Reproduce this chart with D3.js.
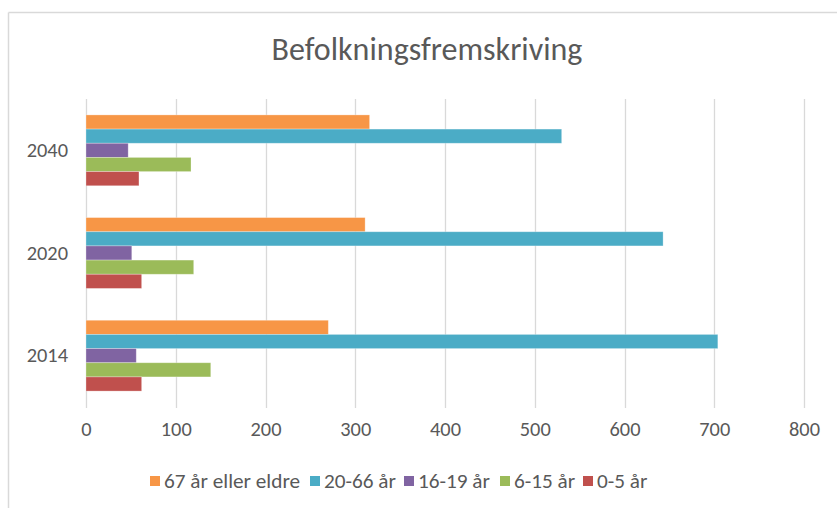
<!DOCTYPE html>
<html>
<head>
<meta charset="utf-8">
<script src="https://cdn.jsdelivr.net/npm/d3@7"></script>
<style>
  html, body { margin: 0; padding: 0; background: #fff; }
  svg { display: block; }
  text { font-family: Carlito, "Liberation Sans Narrow", "Open Sans", "Noto Sans", sans-serif; fill: #595959; }
</style>
</head>
<body>
<svg id="chart" width="837" height="508"></svg>
<script>
const title = "Befolkningsfremskriving";
const categories = ["2040", "2020", "2014"];
const seriesNames = ["67 år eller eldre", "20-66 år", "16-19 år", "6-15 år", "0-5 år"];
const seriesColors = ["#F79646", "#4BACC6", "#8064A2", "#9BBB59", "#C0504D"];
const values67plus = [316, 311, 270];
const values20to66 = [530, 643, 704];
const values16to19 = [47, 51, 56];
const values6to15 = [117, 120, 139];
const values0to5 = [59, 62, 62];
const xTicks = [0, 100, 200, 300, 400, 500, 600, 700, 800];

const seriesValues = [values67plus, values20to66, values16to19, values6to15, values0to5];

const svg = d3.select("#chart");

// chart frame (left and top border visible)
svg.append("line").attr("x1", 8.5).attr("x2", 8.5).attr("y1", 12.5).attr("y2", 508)
  .attr("stroke", "#d9d9d9").attr("stroke-width", 1.5);
svg.append("line").attr("x1", 8.5).attr("x2", 837).attr("y1", 12.5).attr("y2", 12.5)
  .attr("stroke", "#d9d9d9").attr("stroke-width", 1.5);

function fit(sel, target) {
  const node = sel.node();
  const size = parseFloat(sel.attr("font-size"));
  const w = node.getComputedTextLength();
  if (w > 0) sel.attr("font-size", (size * target / w).toFixed(2));
}

const x = d3.scaleLinear().domain([0, 800]).range([86, 804]);
const y = d3.scaleBand().domain(categories).range([99, 407]).paddingInner(0.31).paddingOuter(0.155);
const ySub = d3.scaleBand().domain(seriesNames).range([0, y.bandwidth()]).padding(0);

// gridlines
svg.append("g").selectAll("line").data(xTicks).join("line")
  .attr("x1", d => Math.round(x(d)) + 0.5).attr("x2", d => Math.round(x(d)) + 0.5)
  .attr("y1", 99).attr("y2", 408)
  .attr("stroke", "#d9d9d9").attr("stroke-width", 1.3);

// x axis labels
const xAxis = svg.append("g").attr("transform", "translate(0,408)")
  .call(d3.axisBottom(x).tickValues(xTicks).tickSize(0).tickPadding(14).tickFormat(d3.format("d")));
xAxis.select(".domain").remove();
xAxis.selectAll("text").attr("font-size", 20).attr("fill", "#595959");
fit(xAxis.selectAll("text").filter(d => d === 800), 31);
const fs = xAxis.selectAll("text").filter(d => d === 800).attr("font-size");
xAxis.selectAll("text").attr("font-size", fs);
xAxis.attr("font-family", null);

// y axis labels
const yAxis = svg.append("g").attr("transform", "translate(86,0)")
  .call(d3.axisLeft(y).tickSize(0).tickPadding(18));
yAxis.select(".domain").remove();
yAxis.selectAll("text").attr("font-size", fs).attr("fill", "#595959");
yAxis.attr("font-family", null);

// bars
const groups = svg.append("g").selectAll("g").data(categories).join("g")
  .attr("transform", c => `translate(0,${y(c)})`);
groups.selectAll("rect")
  .data((c, ci) => seriesNames.map((s, si) => ({ s, si, v: seriesValues[si][ci] })))
  .join("rect")
  .attr("x", x(0))
  .attr("y", d => ySub(d.s))
  .attr("width", d => x(d.v) - x(0))
  .attr("height", ySub.bandwidth())
  .attr("fill", d => seriesColors[d.si])
  .attr("stroke", "#ffffff").attr("stroke-opacity", 0.35).attr("stroke-width", 0.8);

// title
const t = svg.append("text").attr("x", 427).attr("y", 60).attr("text-anchor", "middle")
  .attr("font-size", 30).attr("fill", "#595959").text(title);
fit(t, 311);

// legend
const legendX = [150, 310, 404, 500, 583];
const legend = svg.append("g");
const legendTexts = [];
seriesNames.forEach((s, i) => {
  const g = legend.append("g").attr("transform", `translate(${legendX[i]},0)`);
  g.append("rect").attr("x", 0).attr("y", 476).attr("width", 10).attr("height", 10)
    .attr("fill", seriesColors[i]);
  legendTexts.push(g.append("text").attr("x", 14).attr("y", 488).attr("font-size", fs)
    .attr("fill", "#595959").text(s));
});
fit(legendTexts[0], 136);
const lfs = legendTexts[0].attr("font-size");
legendTexts.forEach(tx => tx.attr("font-size", lfs));
</script>
</body>
</html>
